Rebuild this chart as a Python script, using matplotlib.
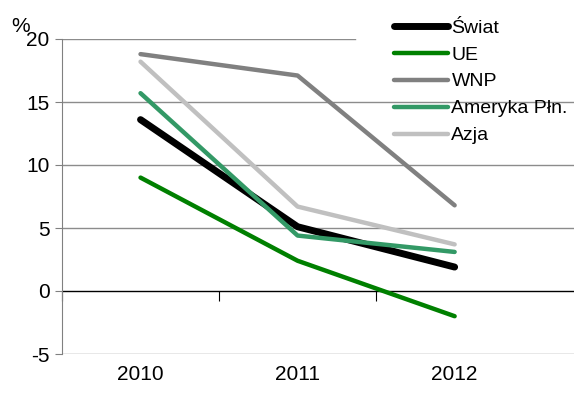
import matplotlib
matplotlib.use("Agg")
import matplotlib.pyplot as plt

years = ["2010", "2011", "2012"]
swiat = [13.6, 5.1, 1.9]
ue = [9.0, 2.4, -2.0]
wnp = [18.8, 17.1, 6.8]
ameryka = [15.7, 4.4, 3.1]
azja = [18.2, 6.7, 3.7]

plt.rcParams["font.family"] = ["Liberation Sans", "DejaVu Sans"]
plt.rcParams["axes.unicode_minus"] = False

fig = plt.figure(figsize=(5.74, 4.01), dpi=100)
ax = fig.add_axes([62 / 574, 47 / 401, 1 - 62 / 574, (354 - 39) / 401])

x = list(range(len(years)))
series = [
    (swiat, "Świat", "#000000", 5.0),
    (ue, "UE", "#008000", 3.2),
    (wnp, "WNP", "#808080", 3.2),
    (ameryka, "Ameryka Płn.", "#339966", 3.2),
    (azja, "Azja", "#C0C0C0", 3.2),
]
for vals, lab, col, lw in series:
    ax.plot(x, vals, color=col, lw=lw, label=lab, solid_capstyle="round", zorder=3)

ax.set_ylim(-5, 20)
ax.set_yticks([-5, 0, 5, 10, 15, 20])
ax.set_xlim(-0.5, 2.76)
for v in [-5, 5, 10, 15]:
    ax.axhline(v, color="#8c8c8c", lw=1, zorder=1)
ax.axhline(20, xmax=(355 - 62) / 512, color="#8c8c8c", lw=1, zorder=1)
ax.axhline(0, color="#000000", lw=1, zorder=2)

for s in ["top", "right", "bottom"]:
    ax.spines[s].set_visible(False)
ax.spines["left"].set_color("#808080")
ax.tick_params(axis="y", length=5, color="#808080", labelsize=15, pad=4)
ax.set_xticks([-0.5, 0.5, 1.5])
ax.set_xticklabels([])
ax.tick_params(axis="x", length=7, color="#000000", direction="out")
ax.xaxis.set_ticks_position("bottom")
ax.spines["bottom"].set_position(("data", 0))
for i, y in enumerate(years):
    ax.text(i, -6.6, y, ha="center", va="center", fontsize=15)
fig.text(11 / 574, 1 - 27 / 401, "%", fontsize=15, ha="left", va="center")

leg = ax.legend(loc="upper left", bbox_to_anchor=(0.641, 1.076),
                bbox_transform=ax.transAxes, frameon=False, fontsize=14,
                handlelength=2.75, handletextpad=0.2, labelspacing=0.48,
                borderpad=0.2, borderaxespad=0)

fig.savefig("out.png", dpi=100)
